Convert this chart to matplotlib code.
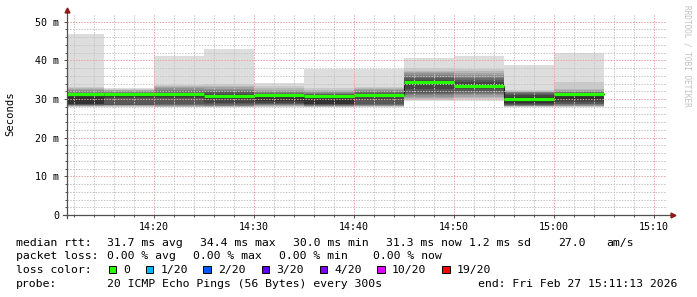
import matplotlib
matplotlib.use("Agg")
import matplotlib.pyplot as plt
from matplotlib.patches import Rectangle
from matplotlib.ticker import FuncFormatter, MultipleLocator

plt.rcParams["font.family"] = "DejaVu Sans Mono"

W, H = 697, 297

# 5-minute bins, start given in minutes after 14:00
bin_start = [10, 15, 20, 25, 30, 35, 40, 45, 50, 55, 60]
median_ms = [31.3, 31.4, 31.2, 30.9, 31.0, 30.8, 31.1, 34.3, 33.4, 29.9, 31.2]

# the 20 sorted ping rtts (ms) of each bin
ping_1410 = [27.9, 28.0, 28.1, 28.2, 28.3, 28.4, 28.5, 28.5, 28.6, 28.7,
             30.8, 31.0, 31.3, 31.6, 32.0, 32.3, 32.6, 32.9, 33.1, 46.9]
ping_1415 = [27.8, 28.0, 28.2, 28.3, 28.4, 28.4, 28.4, 28.5, 30.2, 30.5,
             31.0, 31.2, 31.4, 31.6, 31.8, 32.0, 32.2, 32.4, 32.6, 32.9]
ping_1420 = [27.8, 27.9, 28.0, 28.2, 28.3, 28.4, 28.5, 28.6, 30.3, 30.6,
             31.0, 31.3, 31.6, 32.0, 32.4, 32.8, 33.1, 33.4, 33.7, 41.0]
ping_1425 = [27.8, 27.9, 28.0, 28.1, 28.2, 28.3, 28.4, 28.6, 29.0, 30.0,
             31.1, 31.4, 31.7, 32.0, 32.3, 32.7, 33.0, 33.4, 34.0, 42.8]
ping_1430 = [27.8, 28.0, 28.2, 28.3, 28.4, 28.5, 28.6, 28.7, 29.0, 29.6,
             30.9, 31.2, 31.4, 31.6, 31.8, 32.0, 32.4, 32.8, 33.3, 34.2]
ping_1435 = [27.8, 27.9, 28.0, 28.1, 28.2, 28.3, 28.4, 28.5, 28.6, 28.7,
             30.7, 31.0, 31.2, 31.4, 31.6, 31.8, 32.1, 32.4, 32.8, 37.8]
ping_1440 = [27.9, 28.0, 28.1, 28.2, 28.3, 28.4, 28.5, 28.6, 29.8, 30.5,
             31.1, 31.4, 31.6, 31.8, 32.0, 32.2, 32.5, 32.8, 33.2, 37.8]
ping_1445 = [29.6, 29.8, 30.0, 30.3, 30.6, 31.0, 31.3, 31.6, 32.5, 33.5,
             34.6, 35.0, 35.4, 35.8, 36.2, 36.6, 36.9, 37.3, 37.9, 40.5]
ping_1450 = [29.6, 29.9, 30.2, 30.6, 31.0, 31.3, 31.6, 32.0, 32.6, 33.1,
             33.8, 34.3, 34.8, 35.3, 35.7, 36.2, 36.7, 37.2, 37.8, 41.0]
ping_1455 = [27.9, 28.0, 28.1, 28.2, 28.2, 28.3, 28.4, 28.5, 28.6, 29.0,
             30.6, 31.0, 31.3, 31.5, 31.7, 31.8, 31.9, 32.0, 32.2, 38.9]
ping_1500 = [27.9, 28.0, 28.1, 28.2, 28.3, 28.4, 28.6, 28.8, 29.2, 29.8,
             31.0, 31.3, 31.5, 31.7, 31.9, 32.1, 32.3, 32.6, 34.3, 41.8]
pings = [ping_1410, ping_1415, ping_1420, ping_1425, ping_1430, ping_1435,
         ping_1440, ping_1445, ping_1450, ping_1455, ping_1500]

rtt_stats = [31.7, 34.4, 30.0, 31.3]
rtt_names = ["avg", "max", "min", "now"]
rtt_sd = 1.2
rtt_ams = 27.0
loss_stats = [0.00, 0.00, 0.00, 0.00]

loss_labels = ["0", "1/20", "2/20", "3/20", "4/20", "10/20", "19/20"]
loss_colors = ["#26ff00", "#00b8ff", "#0059ff", "#5e00ff", "#7e00ff", "#dd00ff", "#ff0000"]

probe_text = "20 ICMP Echo Pings (56 Bytes) every 300s"
end_text = "end: Fri Feb 27 15:11:13 2026"


def fx(px):
    return px / W


def fy(py):
    return 1 - py / H


fig = plt.figure(figsize=(W / 100, H / 100), dpi=100)
y_top = 51.95
ax = fig.add_axes([fx(67), 82 / H, 600 / W, y_top * 3.867 / H])

# smoke: layer i spans ping i .. ping 21-i, darker towards the middle
shade = [int(190 / 10 * (10 - i)) + 50 for i in range(1, 11)]
for i in range(10):
    lo = [p[i] for p in pings]
    hi = [p[19 - i] for p in pings]
    g = shade[i] / 255
    ax.bar(bin_start, [h - l for h, l in zip(hi, lo)], bottom=lo, width=5,
           align="edge", color=(g, g, g), linewidth=0, zorder=1)

# median: thin black step line, loss-coloured segments on top
ax.step(bin_start + [bin_start[-1] + 5], median_ms + [median_ms[-1]], where="post",
        color="#202020", lw=0.8, zorder=2)
ax.hlines(median_ms, bin_start, [s + 5 for s in bin_start], colors=loss_colors[0],
          lw=2.3, zorder=4)

ax.set_xlim(11.34, 71.34)
ax.set_ylim(0, y_top)
ax.xaxis.set_major_locator(MultipleLocator(10))
ax.xaxis.set_minor_locator(MultipleLocator(2))
ax.yaxis.set_major_locator(MultipleLocator(10))
ax.yaxis.set_minor_locator(MultipleLocator(2))
ax.xaxis.set_major_formatter(FuncFormatter(lambda v, _: f"{14 + int(v) // 60}:{int(v) % 60:02d}"))
ax.yaxis.set_major_formatter(FuncFormatter(lambda v, _: "0" if v == 0 else f"{int(v)} m"))

ax.set_axisbelow(False)
ax.grid(which="minor", color="#c4c4c4", ls=(0, (1.4, 1.4)), lw=0.72)
ax.grid(which="major", color="#e8a0a0", ls=(0, (1.4, 1.4)), lw=0.72)

for s in ax.spines.values():
    s.set_visible(False)
ax.tick_params(which="both", direction="out", color="#505050", width=0.7,
               labelsize=7.2, labelcolor="#000000")
ax.tick_params(which="major", length=2.2)
ax.tick_params(which="minor", length=1.5)
ax.tick_params(axis="x", pad=3.0)
ax.tick_params(axis="y", pad=3.5)

# axis lines with rrdtool style arrow heads
ax.plot([-4 / 600, 1 + 4 / 600], [0, 0], transform=ax.transAxes, color="#505050",
        lw=0.9, clip_on=False, zorder=5)
ax.plot([0, 0], [-3 / 201, 1 + 3 / 201], transform=ax.transAxes, color="#505050",
        lw=0.9, clip_on=False, zorder=5)
ax.plot([0], [1 + 4 / 201], marker="^", ms=3.5, color="#901818", mec="#901818",
        transform=ax.transAxes, clip_on=False, zorder=6)
ax.plot([1 + 6 / 600], [0], marker=">", ms=3.5, color="#901818", mec="#901818",
        transform=ax.transAxes, clip_on=False, zorder=6)

fig.text(fx(10.5), fy(114), "Seconds", rotation=90, ha="center", va="center", fontsize=7.6)
fig.text(fx(686.5), fy(5), "RRDTOOL / TOBI OETIKER", rotation=270, ha="center", va="top",
         fontsize=5.6, color="#c0c0c0")

# legend block
lg = dict(fontsize=8.25, va="baseline", ha="left")
rows = [245.7, 259.3, 273.3, 287.3]

fig.text(fx(16), fy(rows[0]), "median rtt:", **lg)
for x, v, n in zip([107.3, 200.0, 292.7, 386.0], rtt_stats, rtt_names):
    fig.text(fx(x), fy(rows[0]), f"{v:.1f} ms {n}", **lg)
fig.text(fx(469.3), fy(rows[0]), f"{rtt_sd:.1f} ms sd", **lg)
fig.text(fx(558.3), fy(rows[0]), f"{rtt_ams:.1f}", **lg)
fig.text(fx(606.7), fy(rows[0]), "am/s", **lg)

fig.text(fx(16), fy(rows[1]), "packet loss:", **lg)
for x, v, n in zip([107.3, 193.3, 279.3, 373.3], loss_stats, rtt_names):
    fig.text(fx(x), fy(rows[1]), f"{v:.2f} % {n}", **lg)

fig.text(fx(16), fy(rows[2]), "loss color:", **lg)
box_x = [108.7, 146.0, 203.3, 262.0, 320.0, 377.3, 442.3]
for bx, lab, col in zip(box_x, loss_labels, loss_colors):
    fig.patches.append(Rectangle((fx(bx), fy(273.2)), 7.3 / W, 7.3 / H, transform=fig.transFigure,
                                 facecolor=col, edgecolor="#000000", lw=0.7))
    fig.text(fx(bx + 14.5), fy(rows[2]), lab, **lg)

fig.text(fx(16), fy(rows[3]), "probe:", **lg)
fig.text(fx(107.3), fy(rows[3]), probe_text, **lg)
fig.text(fx(478.3), fy(rows[3]), end_text, **lg)

fig.savefig("out.png", dpi=100, facecolor="white")
